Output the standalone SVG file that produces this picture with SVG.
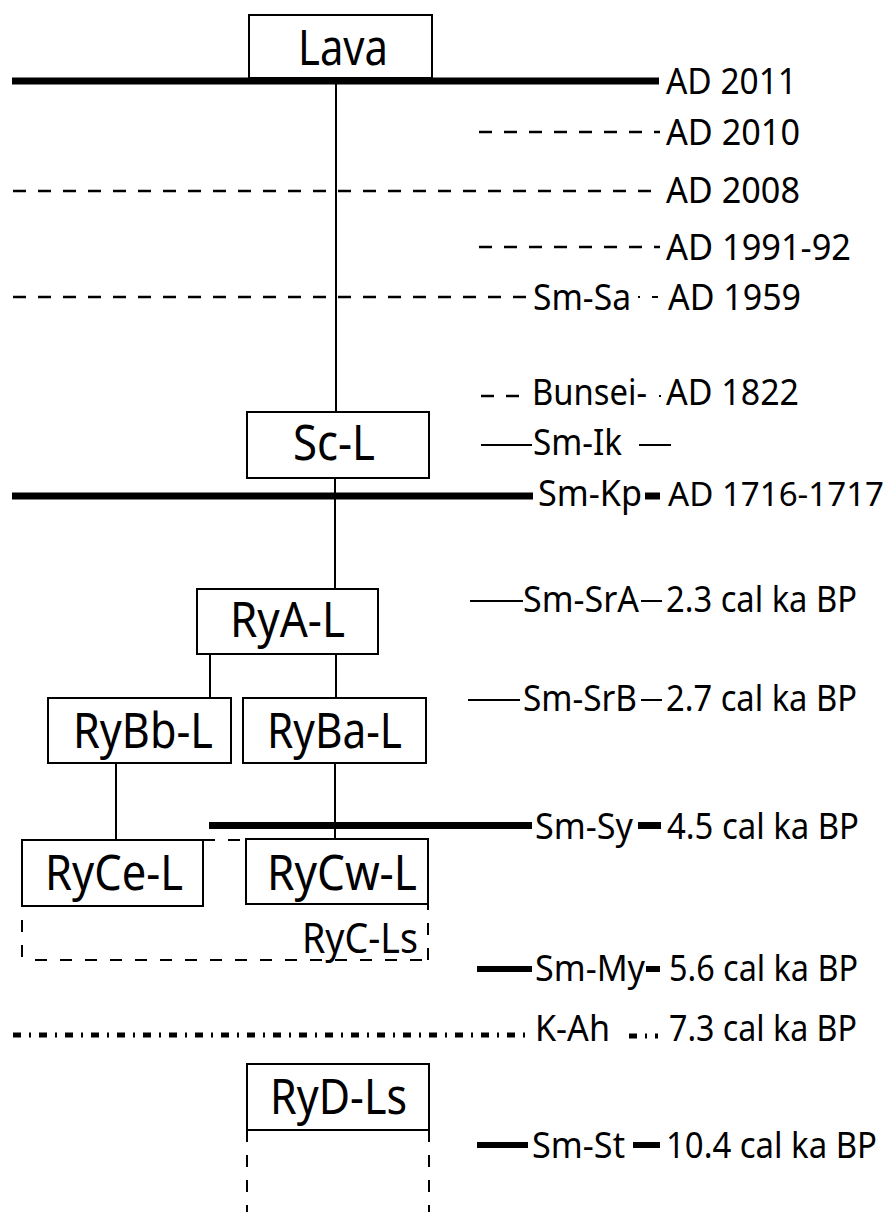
<svg xmlns="http://www.w3.org/2000/svg" width="896" height="1212" viewBox="0 0 896 1212">
  <style>
    .box { fill: #fff; stroke: #000; stroke-width: 2; }
    .thin { stroke: #000; stroke-width: 2; fill: none; }
    .thick { stroke: #000; stroke-width: 7; fill: none; }
    .mid { stroke: #000; stroke-width: 6; fill: none; }
    .dash { stroke: #000; stroke-width: 2.5; stroke-dasharray: 13 12; fill: none; }
    .dashbox { stroke: #000; stroke-width: 2; stroke-dasharray: 12 13; fill: none; }
    .dotdash { stroke: #000; stroke-width: 5; stroke-dasharray: 8 8 2 8; fill: none; }
    text { font-family: "Noto Sans", "Open Sans", sans-serif; fill: #000; }
    .node { font-size: 50px; }
    .lbl { font-size: 36px; }
    .small { font-size: 42px; }
  </style>

  <!-- tephra / eruption horizons -->
  <g id="horizons">
    <!-- AD 2011 -->
    <line class="thick" x1="12" y1="81" x2="659" y2="81"/>
    <!-- AD 2010 -->
    <line class="dash" x1="479" y1="132" x2="660" y2="132"/>
    <!-- AD 2008 -->
    <line class="dash" x1="13" y1="191" x2="660" y2="191" stroke-dasharray="13 12.7"/>
    <!-- AD 1991-92 -->
    <line class="dash" x1="479" y1="247" x2="660" y2="247"/>
    <!-- Sm-Sa / AD 1959 -->
    <line class="dash" x1="13" y1="297" x2="533" y2="297" stroke-dasharray="13 12.4"/>
    <line class="thin" x1="638" y1="297" x2="640" y2="297"/>
    <line class="thin" x1="652" y1="297" x2="658" y2="297" stroke-width="2.5"/>
    <!-- Bunsei / AD 1822 -->
    <line class="dash" x1="481" y1="396" x2="520" y2="396"/>
    <line class="thin" x1="659" y1="396" x2="661" y2="396"/>
    <!-- Sm-Ik -->
    <line class="thin" x1="481" y1="445" x2="532" y2="445"/>
    <line class="thin" x1="639" y1="445" x2="671" y2="445"/>
    <!-- Sm-Kp / AD 1716-1717 -->
    <line class="thick" x1="12" y1="496" x2="533" y2="496"/>
    <line class="thick" x1="645" y1="496" x2="660" y2="496"/>
    <!-- Sm-SrA -->
    <line class="thin" x1="470" y1="601" x2="523" y2="601"/>
    <line class="thin" x1="641" y1="601" x2="662" y2="601"/>
    <!-- Sm-SrB -->
    <line class="thin" x1="468" y1="700" x2="520" y2="700"/>
    <line class="thin" x1="641" y1="700" x2="662" y2="700"/>
    <!-- Sm-Sy -->
    <line class="thick" x1="209" y1="825.5" x2="532" y2="825.5"/>
    <line class="thick" x1="638" y1="825.5" x2="661" y2="825.5"/>
    <!-- Sm-My -->
    <line class="mid" x1="477" y1="969" x2="532" y2="969"/>
    <line class="mid" x1="646" y1="969" x2="660" y2="969"/>
    <!-- K-Ah -->
    <line class="dotdash" x1="13" y1="1035" x2="528" y2="1035"/>
    <line class="dotdash" x1="629" y1="1036" x2="658" y2="1036" stroke-width="4" stroke-dasharray="8 7 3 6 3 30"/>
    <!-- Sm-St -->
    <line class="mid" x1="477" y1="1145" x2="528" y2="1145"/>
    <line class="mid" x1="633" y1="1145" x2="660" y2="1145"/>
  </g>

  <!-- links between lava units -->
  <g id="connectors">
    <line class="thin" x1="336" y1="84" x2="336" y2="412"/>
    <line class="thin" x1="335" y1="478" x2="335" y2="589"/>
    <line class="thin" x1="210" y1="654" x2="210" y2="698"/>
    <line class="thin" x1="336" y1="654" x2="336" y2="698"/>
    <line class="thin" x1="116" y1="763" x2="116" y2="840"/>
    <line class="thin" x1="335" y1="763" x2="335" y2="839"/>
  </g>

  <!-- RyC-Ls envelope (dashed) -->
  <g id="RyC-Ls">
    <line class="dashbox" x1="203" y1="840" x2="246" y2="840"/>
    <line class="dashbox" x1="22" y1="906" x2="22" y2="962" stroke-dashoffset="11"/>
    <line class="dashbox" x1="22" y1="960" x2="428" y2="960" stroke-dashoffset="12"/>
    <line class="dashbox" x1="428" y1="904" x2="428" y2="961" stroke-dashoffset="6"/>
    <text class="small" x="302" y="953" textLength="116" lengthAdjust="spacingAndGlyphs">RyC-Ls</text>
  </g>

  <g id="Lava">
    <rect class="box" x="249" y="15" width="183" height="63"/>
    <text class="node" x="298" y="65" textLength="90" lengthAdjust="spacingAndGlyphs">Lava</text>
  </g>
  <g id="Sc-L">
    <rect class="box" x="247" y="412" width="182" height="66"/>
    <text class="node" x="293" y="460" textLength="82" lengthAdjust="spacingAndGlyphs">Sc-L</text>
  </g>
  <g id="RyA-L">
    <rect class="box" x="197" y="589" width="181" height="65"/>
    <text class="node" x="230" y="637" textLength="115" lengthAdjust="spacingAndGlyphs">RyA-L</text>
  </g>
  <g id="RyBb-L">
    <rect class="box" x="48" y="698" width="183" height="65"/>
    <text class="node" x="73" y="748" textLength="140" lengthAdjust="spacingAndGlyphs">RyBb-L</text>
  </g>
  <g id="RyBa-L">
    <rect class="box" x="243" y="698" width="183" height="65"/>
    <text class="node" x="267" y="748" textLength="135" lengthAdjust="spacingAndGlyphs">RyBa-L</text>
  </g>
  <g id="RyCe-L">
    <rect class="box" x="22" y="840" width="181" height="66"/>
    <text class="node" x="45" y="890" textLength="138" lengthAdjust="spacingAndGlyphs">RyCe-L</text>
  </g>
  <g id="RyCw-L">
    <rect class="box" x="246" y="839" width="182" height="65"/>
    <text class="node" x="267" y="890" textLength="150" lengthAdjust="spacingAndGlyphs">RyCw-L</text>
  </g>
  <g id="RyD-Ls">
    <line class="dashbox" x1="247" y1="1130" x2="247" y2="1212" stroke-width="2.5"/>
    <line class="dashbox" x1="429" y1="1130" x2="429" y2="1212" stroke-width="2.5"/>
    <rect class="box" x="247" y="1064" width="182" height="66"/>
    <text class="node" x="270" y="1114" textLength="137" lengthAdjust="spacingAndGlyphs">RyD-Ls</text>
  </g>

  <!-- tephra names and ages -->
  <g id="labels" class="lbl">
    <text class="lbl" x="666" y="94" textLength="131" lengthAdjust="spacingAndGlyphs">AD 2011</text>
    <text class="lbl" x="666" y="145" textLength="134" lengthAdjust="spacingAndGlyphs">AD 2010</text>
    <text class="lbl" x="666" y="203" textLength="134" lengthAdjust="spacingAndGlyphs">AD 2008</text>
    <text class="lbl" x="666" y="260" textLength="185" lengthAdjust="spacingAndGlyphs">AD 1991-92</text>
    <text class="lbl" x="533" y="310" textLength="98" lengthAdjust="spacingAndGlyphs">Sm-Sa</text>
    <text class="lbl" x="668" y="310" textLength="133" lengthAdjust="spacingAndGlyphs">AD 1959</text>
    <text class="lbl" x="532" y="405" textLength="115" lengthAdjust="spacingAndGlyphs">Bunsei-</text>
    <text class="lbl" x="666" y="405" textLength="133" lengthAdjust="spacingAndGlyphs">AD 1822</text>
    <text class="lbl" x="533" y="455" textLength="89" lengthAdjust="spacingAndGlyphs">Sm-Ik</text>
    <text class="lbl" x="538" y="506" textLength="104" lengthAdjust="spacingAndGlyphs">Sm-Kp</text>
    <text x="668" y="506" font-size="33" textLength="216" lengthAdjust="spacingAndGlyphs">AD 1716-1717</text>
    <text class="lbl" x="523" y="612" textLength="116" lengthAdjust="spacingAndGlyphs">Sm-SrA</text>
    <text class="lbl" x="666" y="612" textLength="191" lengthAdjust="spacingAndGlyphs">2.3 cal ka BP</text>
    <text class="lbl" x="523" y="711" textLength="114" lengthAdjust="spacingAndGlyphs">Sm-SrB</text>
    <text class="lbl" x="666" y="711" textLength="191" lengthAdjust="spacingAndGlyphs">2.7 cal ka BP</text>
    <text class="lbl" x="535" y="839" textLength="98" lengthAdjust="spacingAndGlyphs">Sm-Sy</text>
    <text class="lbl" x="667" y="839" textLength="192" lengthAdjust="spacingAndGlyphs">4.5 cal ka BP</text>
    <text class="lbl" x="535" y="981" textLength="110" lengthAdjust="spacingAndGlyphs">Sm-My</text>
    <text class="lbl" x="669" y="981" textLength="189" lengthAdjust="spacingAndGlyphs">5.6 cal ka BP</text>
    <text class="lbl" x="535" y="1041" textLength="75" lengthAdjust="spacingAndGlyphs">K-Ah</text>
    <text class="lbl" x="669" y="1041" textLength="188" lengthAdjust="spacingAndGlyphs">7.3 cal ka BP</text>
    <text class="lbl" x="532" y="1158" textLength="93" lengthAdjust="spacingAndGlyphs">Sm-St</text>
    <text class="lbl" x="666" y="1158" textLength="211" lengthAdjust="spacingAndGlyphs">10.4 cal ka BP</text>
  </g>
</svg>
